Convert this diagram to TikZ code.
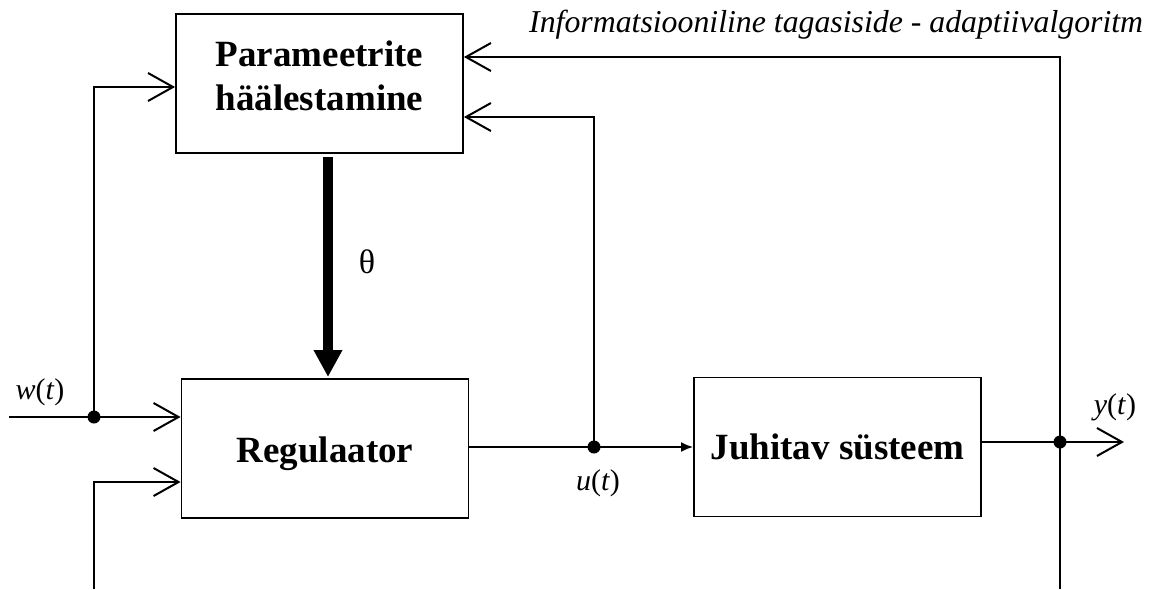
\documentclass[tikz,border=0pt]{standalone}
\usepackage{fontspec}
\setmainfont{Liberation Serif}
\usetikzlibrary{arrows.meta}
\begin{document}
\begin{tikzpicture}[x=1pt,y=-1pt,
  blockbox/.style={draw, line width=1.8pt, minimum width=287pt, minimum height=139pt, inner sep=0pt, align=center,
    font=\fontsize{37}{44}\selectfont\bfseries},
  wire/.style={line width=2pt},
  oarr/.style={wire, -{Straight Barb[length=25pt,width=28pt]}},
  farr/.style={wire, -{Latex[length=12pt,width=10pt]}},
  thickarr/.style={line width=10pt, -{Triangle[length=27pt,width=27pt]}},
  junc/.style={circle, fill=black, inner sep=0pt, minimum size=13pt},
  sig/.style={font=\fontsize{30}{33}\selectfont}
]
\useasboundingbox (0,0) rectangle (1158,589);

\node[blockbox] (P) at (319.5,83.5) {\raisebox{4pt}[\height][\depth]{\begin{tabular}{@{}c@{}}Parameetrite\\häälestamine\end{tabular}}};
\node[blockbox] (R) at (325,448.5) {\raisebox{-5pt}[\height][\depth]{Regulaator}};
\node[blockbox] (J) at (837.5,447) {Juhitav süsteem};

% junctions and free ends
\coordinate (jw) at (94,417);
\coordinate (ju) at (594,447);
\coordinate (jy) at (1060,442);
\coordinate (wstart) at (9,417);
\coordinate (bl) at (94,589);
\coordinate (br) at (1060,589);
\coordinate (yend) at (1124,442);

% w(t) input
\draw[wire] (wstart) -- (jw);
\draw[oarr] (jw) -- (R.west |- jw);
\draw[oarr] (jw) -- (94,87) -- (P.west |- 94,87);
% bottom-left input
\draw[oarr] (bl) -- (94,482) -- (R.west |- 94,482);
% u(t)
\draw[wire] (R.east |- ju) -- (ju);
\draw[farr] (ju) -- (J.west |- ju);
\draw[oarr] (ju) -- (594,117) -- (P.east |- 594,117);
% y(t)
\draw[wire] (J.east |- jy) -- (jy);
\draw[oarr] (jy) -- (yend);
\draw[wire] (br) -- (jy);
\draw[oarr] (jy) -- (1060,57) -- (P.east |- 1060,57);
% theta
\draw[thickarr] (328,157) -- (328,377);

\node[junc] at (jw) {};
\node[junc] at (ju) {};
\node[junc] at (jy) {};

% labels
\node[sig] (lw) at (40,392) {\textit{w}(\textit{t})};
\node[sig] (lu) at (598,483) {\textit{u}(\textit{t})};
\node[sig] (ly) at (1115,407) {\textit{y}(\textit{t})};
\node[font=\fontsize{34}{36}\selectfont] (lth) at (367,262) {θ};
\node[anchor=base west, inner sep=0pt, font=\fontsize{31.8}{34}\selectfont\itshape] (linfo) at (529,32)
  {Informatsiooniline tagasiside - adaptiivalgoritm};
\end{tikzpicture}
\end{document}
